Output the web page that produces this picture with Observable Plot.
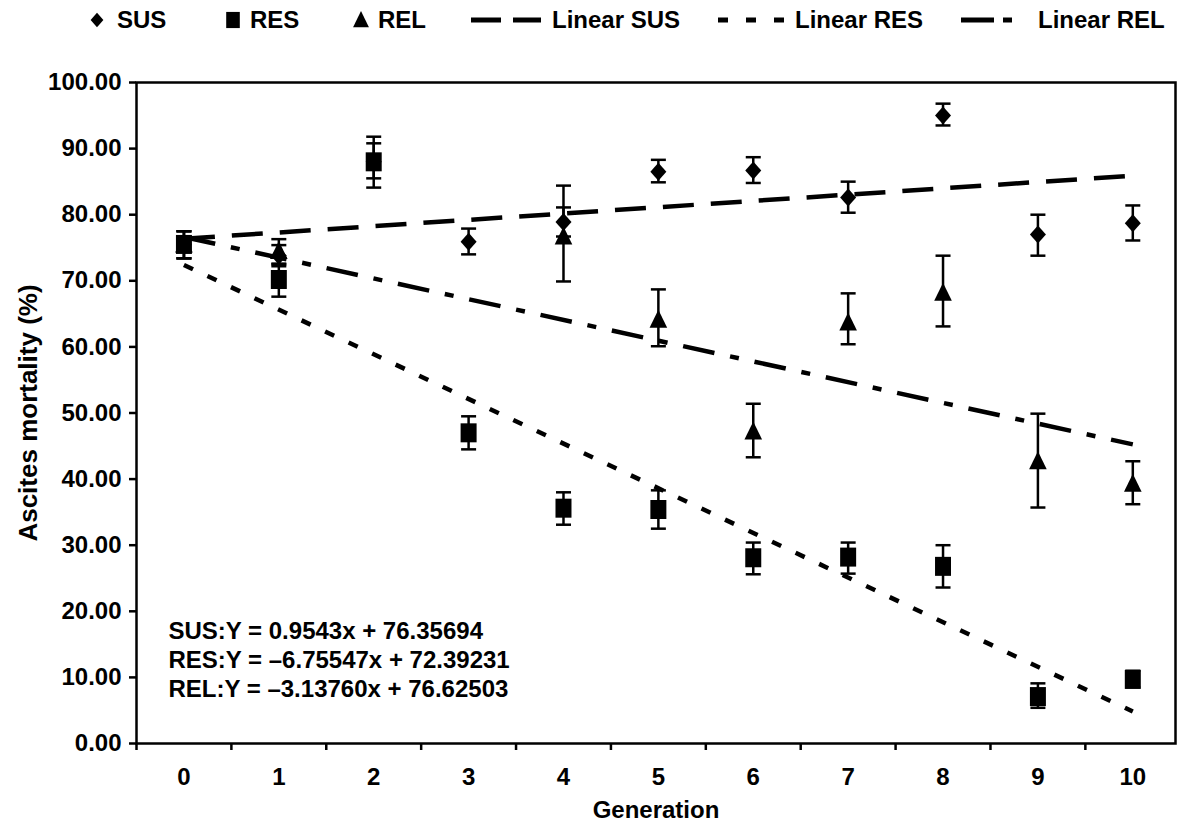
<!DOCTYPE html>
<html>
<head>
<meta charset="utf-8">
<script src="https://cdn.jsdelivr.net/npm/d3@7"></script>
<script src="https://cdn.jsdelivr.net/npm/@observablehq/plot@0.6"></script>
<style>
  html, body { margin: 0; padding: 0; background: #fff; overflow: hidden; }
  #legend { display: block; }
  #chart svg { display: block; }
</style>
</head>
<body>
<svg id="legend" width="1177" height="50"></svg>
<div id="chart"></div>
<script>
// ---- data ----
const generations = [0, 1, 2, 3, 4, 5, 6, 7, 8, 9, 10];
const susMean = [75.5, 73.8, 88.0, 75.9, 78.9, 86.5, 86.7, 82.6, 95.0, 77.0, 78.7];
const susLow  = [73.4, 72.2, 85.5, 74.0, 76.7, 84.9, 84.8, 80.3, 93.5, 73.8, 76.1];
const susHigh = [77.5, 75.4, 90.8, 77.9, 81.1, 88.3, 88.7, 85.0, 96.8, 80.0, 81.4];
const resMean = [75.5, 70.2, 88.0, 47.0, 35.6, 35.4, 28.1, 28.2, 26.8, 7.1, 9.7];
const resLow  = [73.4, 67.6, 84.1, 44.5, 33.1, 32.5, 25.6, 25.7, 23.6, 5.4, 8.5];
const resHigh = [77.5, 72.6, 91.8, 49.5, 38.0, 38.3, 30.4, 30.4, 30.0, 9.1, 11.0];
const relMean = [75.5, 74.5, null, null, 76.7, 64.1, 47.2, 63.7, 68.2, 42.7, 39.3];
const relLow  = [73.4, 72.5, null, null, 69.9, 60.1, 43.3, 60.4, 63.1, 35.7, 36.2];
const relHigh = [77.5, 76.3, null, null, 84.4, 68.7, 51.4, 68.1, 73.8, 49.9, 42.7];
// linear trend end points (x = 0 and x = 10)
const trendX = [0, 10];
const trendSUS = [76.36, 85.90];
const trendRES = [72.39, 4.84];
const trendREL = [76.63, 45.25];
const equations = [
  "SUS:Y = 0.9543x + 76.35694",
  "RES:Y = \u20136.75547x + 72.39231",
  "REL:Y = \u20133.13760x + 76.62503"
];
const yTicks = [0, 10, 20, 30, 40, 50, 60, 70, 80, 90, 100];
const xBoundaryTicks = [-0.5, 0.5, 1.5, 2.5, 3.5, 4.5, 5.5, 6.5, 7.5, 8.5, 9.5];
const seriesNames = ["SUS", "RES", "REL"];
const trendNames = ["Linear SUS", "Linear RES", "Linear REL"];

// ---- build tables ----
function rows(mean, low, high) {
  return generations.map((g, i) => ({g, m: mean[i], lo: low[i], hi: high[i]})).filter(d => d.m != null);
}
const sus = rows(susMean, susLow, susHigh);
const res = rows(resMean, resLow, resHigh);
const rel = rows(relMean, relLow, relHigh);
const trend = (ys) => trendX.map((x, i) => ({x, y: ys[i]}));

// ---- symbols ----
const diamondSym = {draw(c) { c.moveTo(0, -9); c.lineTo(8, 0); c.lineTo(0, 9); c.lineTo(-8, 0); c.closePath(); }};
const squareSym = {draw(c) { c.rect(-8, -9.5, 16, 19); }};
const triangleSym = {draw(c) { c.moveTo(0, -10); c.lineTo(8.8, 8); c.lineTo(-8.8, 8); c.closePath(); }};
const capSym = {draw(c) { c.moveTo(-7.5, 0); c.lineTo(7.5, 0); }};

const FONT = "'Liberation Sans', Arial, Helvetica, sans-serif";
const dash = {SUS: "31,17", RES: "10,16", REL: "32,16,9,16"};

function errMarks(data) {
  return [
    Plot.ruleX(data, {x: "g", y1: "lo", y2: "hi", stroke: "black", strokeWidth: 2.5}),
    Plot.dot(data, {x: "g", y: "lo", symbol: capSym, fill: "none", stroke: "black", strokeWidth: 2.5}),
    Plot.dot(data, {x: "g", y: "hi", symbol: capSym, fill: "none", stroke: "black", strokeWidth: 2.5})
  ];
}

const chart = Plot.plot({
  width: 1177,
  height: 781,
  marginLeft: 136,
  marginRight: 2,
  marginTop: 32,
  marginBottom: 88,
  style: {fontFamily: FONT, fontSize: "24px", fontWeight: "bold", color: "black", background: "white"},
  x: {domain: [-0.5, 10.45], axis: null},
  y: {domain: [0, 100], axis: null},
  marks: [
    Plot.line(trend(trendSUS), {x: "x", y: "y", stroke: "black", strokeWidth: 4.5, strokeDasharray: dash.SUS, strokeLinecap: "butt"}),
    Plot.line(trend(trendRES), {x: "x", y: "y", stroke: "black", strokeWidth: 4.5, strokeDasharray: dash.RES, strokeLinecap: "butt"}),
    Plot.line(trend(trendREL), {x: "x", y: "y", stroke: "black", strokeWidth: 4.5, strokeDasharray: dash.REL, strokeLinecap: "butt"}),
    ...errMarks(sus),
    ...errMarks(rel),
    ...errMarks(res),
    Plot.dot(sus, {x: "g", y: "m", symbol: diamondSym, fill: "black", stroke: "none"}),
    Plot.dot(rel, {x: "g", y: "m", symbol: triangleSym, fill: "black", stroke: "none"}),
    Plot.dot(res, {x: "g", y: "m", symbol: squareSym, fill: "black", stroke: "none"}),
    Plot.frame({stroke: "black", strokeWidth: 2.5}),
    Plot.axisY({ticks: yTicks, tickSize: 7, tickPadding: 8, strokeWidth: 2.5, tickFormat: d => d.toFixed(2), label: null, fontSize: 24}),
    Plot.axisX({ticks: xBoundaryTicks, tickSize: 7, strokeWidth: 2.5, tickFormat: () => "", label: null}),
    Plot.axisX({ticks: generations, tickSize: 0, tickPadding: 24, label: null, fontSize: 24}),
    Plot.text([equations.join("\n")], {frameAnchor: "bottom-left", textAnchor: "start", lineAnchor: "middle", lineHeight: 1.21, dx: 32, dy: -85, fontSize: 24, fontWeight: "bold", fill: "black"}),
    Plot.text(["Generation"], {frameAnchor: "bottom", dy: 74, fontSize: 24, fontWeight: "bold", fill: "black"}),
    Plot.text(["Ascites mortality (%)"], {frameAnchor: "left", textAnchor: "middle", lineAnchor: "middle", rotate: -90, dx: -108, fontSize: 26, fontWeight: "bold", fill: "black"})
  ]
});
document.getElementById("chart").appendChild(chart);

// ---- legend (above the SVG) ----
const lg = d3.select("#legend").style("font-family", FONT).style("font-weight", "bold").style("font-size", "24px");
const cy = 20;
const markerLayout = [
  {sym: diamondSym, cx: 97, tx: 117, scale: 0.8},
  {sym: squareSym, cx: 233, tx: 250, scale: 0.85},
  {sym: triangleSym, cx: 361, tx: 378, scale: 0.9}
];
seriesNames.forEach((name, i) => {
  const L = markerLayout[i];
  const p = d3.path(); L.sym.draw(p);
  lg.append("path").attr("d", p.toString()).attr("fill", "black")
    .attr("transform", `translate(${L.cx},${cy}) scale(${L.scale})`);
  lg.append("text").attr("x", L.tx).attr("y", cy).attr("dy", "0.35em").text(name);
});
const lineLayout = [
  {x1: 471, x2: 541, tx: 552, da: "30,12"},
  {x1: 718, x2: 784, tx: 795, da: "10,18"},
  {x1: 961, x2: 1012, tx: 1038, da: "33,9,9,30"}
];
trendNames.forEach((name, i) => {
  const L = lineLayout[i];
  lg.append("line").attr("x1", L.x1).attr("x2", L.x2).attr("y1", cy).attr("y2", cy)
    .attr("stroke", "black").attr("stroke-width", 5).attr("stroke-dasharray", L.da);
  lg.append("text").attr("x", L.tx).attr("y", cy).attr("dy", "0.35em").text(name);
});
</script>
</body>
</html>
